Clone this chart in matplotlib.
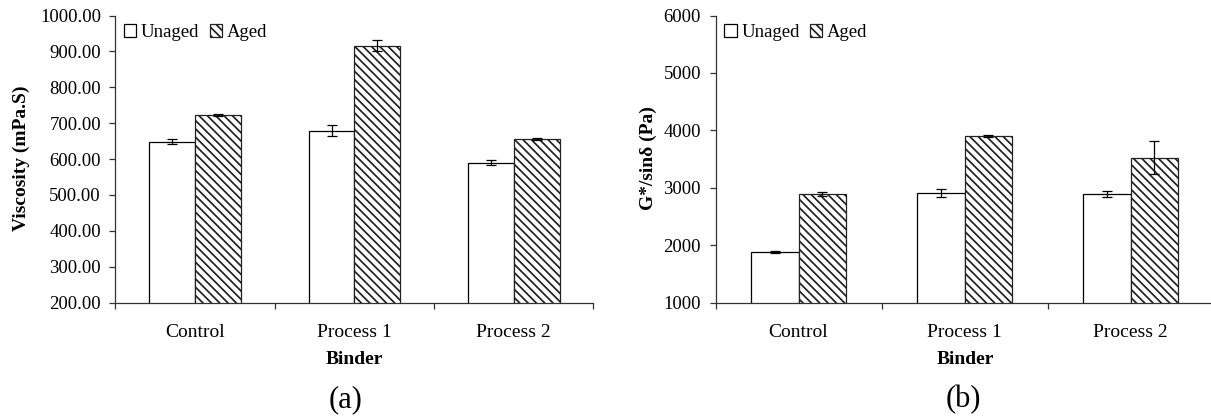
import matplotlib
matplotlib.use("Agg")
import matplotlib.pyplot as plt
import numpy as np

# ---- data ----
categories = ["Control", "Process 1", "Process 2"]
series_names = ["Unaged", "Aged"]

visc_unaged = [648, 679, 590]
visc_unaged_err = [7.5, 15, 7.5]
visc_aged = [723, 916, 655]
visc_aged_err = [3, 16, 3]

gsin_unaged = [1880, 2905, 2888]
gsin_unaged_err = [12, 64, 55]
gsin_aged = [2888, 3897, 3525]
gsin_aged_err = [40, 20, 290]

visc_ticks = [200, 300, 400, 500, 600, 700, 800, 900, 1000]
gsin_ticks = [1000, 2000, 3000, 4000, 5000, 6000]

plt.rcParams['font.family'] = ['Liberation Serif', 'DejaVu Serif']
plt.rcParams['hatch.linewidth'] = 1.25
plt.rcParams['hatch.color'] = '#3a3a3a'

W, H = 1211, 417
fig = plt.figure(figsize=(W / 100, H / 100), dpi=100)

axis_col = '#333333'


def px_box(x0, x1, ytop, ybot):
    return [x0 / W, 1 - ybot / H, (x1 - x0) / W, (ybot - ytop) / H]


def draw(ax, unaged, uerr, aged, aerr, ticks, fmt):
    x = np.arange(len(categories))
    w = 0.287
    ax.bar(x - w / 2, unaged, w, color='white', edgecolor='black',
           linewidth=0.9, label=series_names[0], zorder=2)
    ax.bar(x + w / 2, aged, w, color='white', edgecolor='#222222',
           linewidth=0.9, hatch='\\\\\\\\', label=series_names[1], zorder=2)
    ax.errorbar(x - w / 2, unaged, yerr=uerr, fmt='none', ecolor='black',
                elinewidth=0.9, capsize=3.3, capthick=0.9, zorder=3)
    ax.errorbar(x + w / 2, aged, yerr=aerr, fmt='none', ecolor='black',
                elinewidth=0.9, capsize=3.3, capthick=0.9, zorder=3)
    ax.set_xlim(-0.5, len(categories) - 0.5)
    ax.set_ylim(ticks[0], ticks[-1])
    ax.set_yticks(ticks)
    ax.set_yticklabels([fmt.format(t) for t in ticks])
    ax.set_xticks(np.arange(len(categories) + 1) - 0.5)
    ax.set_xticklabels([])
    ax.set_xticks(x, minor=True)
    ax.set_xticklabels(categories, minor=True)
    ax.tick_params(axis='x', which='minor', length=0, pad=15.5, labelsize=14)
    ax.tick_params(axis='x', which='major', length=4, width=0.9, color=axis_col, direction='out')
    ax.tick_params(axis='y', length=4, width=0.9, color=axis_col, pad=6.5, labelsize=13.5)
    for s in ['top', 'right']:
        ax.spines[s].set_visible(False)
    for s in ['left', 'bottom']:
        ax.spines[s].set_color(axis_col)
        ax.spines[s].set_linewidth(0.9)
    ax.legend(loc='upper left', bbox_to_anchor=(0.018, 0.97), ncol=2, frameon=False,
              fontsize=13.5, handlelength=0.65, handleheight=0.65, handletextpad=0.25,
              columnspacing=0.55, borderaxespad=0, borderpad=0)


ax1 = fig.add_axes(px_box(115.5, 593.5, 15.5, 302.5))
draw(ax1, visc_unaged, visc_unaged_err, visc_aged, visc_aged_err, visc_ticks, "{:.2f}")

ax2 = fig.add_axes(px_box(715.5, 1213.5, 15.5, 302.5))
draw(ax2, gsin_unaged, gsin_unaged_err, gsin_aged, gsin_aged_err, gsin_ticks, "{:.0f}")

fig.text(21 / W, 1 - 158 / H, "Viscosity (mPa.S)", rotation=90, ha='center', va='center',
         fontsize=14, fontweight='bold')
fig.text(648 / W, 1 - 158 / H, "G*/sinδ (Pa)", rotation=90, ha='center', va='center',
         fontsize=14, fontweight='bold')
fig.text(354 / W, 1 - 360 / H, "Binder", ha='center', va='center', fontsize=14, fontweight='bold')
fig.text(965 / W, 1 - 360 / H, "Binder", ha='center', va='center', fontsize=14, fontweight='bold')
fig.text(346 / W, 1 - 400 / H, "(a)", ha='center', va='center', fontsize=22)
fig.text(963 / W, 1 - 400 / H, "(b)", ha='center', va='center', fontsize=22)

fig.savefig("out.png", dpi=100)
